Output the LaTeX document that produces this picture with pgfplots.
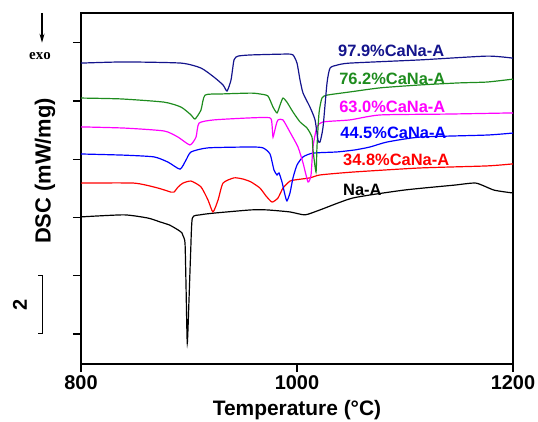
\documentclass[border=0pt]{standalone}
\usepackage{pgfplots}
\pgfplotsset{compat=1.18}
\usetikzlibrary{arrows.meta}
\usepackage{fontspec}
\setmainfont{Liberation Sans}
\newfontfamily\seriffont{Liberation Serif}
\definecolor{cnavy}{RGB}{20,20,140}
\definecolor{cgreen}{RGB}{30,140,30}
\definecolor{cmag}{RGB}{255,0,255}
\definecolor{cblue}{RGB}{0,0,255}
\definecolor{cred}{RGB}{255,0,0}
\begin{document}
\begin{tikzpicture}
\begin{axis}[
  scale only axis, width=432bp, height=351bp,
  xmin=800, xmax=1200, ymin=-1.03, ymax=11.02,
  xtick={800,1000,1200}, ytick={0,2,...,10}, yticklabels={},
  axis line style={line width=1.2pt},
  tick style={line width=1.2pt, black},
  tick align=outside, major tick length=8bp,
  xtick pos=bottom, ytick pos=left,
  /pgf/number format/assume math mode=true,
  /pgf/number format/1000 sep={},
  ticklabel style={font=\fontsize{20}{24}\selectfont\bfseries},
  clip=false,
  every axis plot/.append style={line width=1.2pt, no marks, smooth, tension=0.35},
]
\coordinate (SW) at (rel axis cs:0,0);
\coordinate (NE) at (rel axis cs:1,1);
% Na-A
\addplot[black] coordinates {
(800,4.02) (839.8,4.09) (862,3.98) (873,3.85) (882,3.74) (890,3.57) (893.5,3.47)
(894.4,3.38) (896.3,3.13) (897.2,1.75) (898.4,-0.31) (900,1.17) (901.6,2.88) (903.1,3.98)
(910.2,4.09) (923.1,4.15) (957.4,4.26) (972.2,4.26) (993.5,4.19) (1007.4,4.09)
(1021.3,4.26) (1051.9,4.67) (1099,4.94) (1145.4,5.11) (1165.7,5.18) (1182.4,4.94) (1200,4.84)
};
% 34.8
\addplot[cred] coordinates {
(800,5.18) (849.1,5.18) (871.3,5.01) (883.3,4.87) (886.1,4.87) (890,5.05) (894.4,5.18)
(901.9,5.25) (911.1,5.05) (917.6,4.60) (922.2,4.19) (926.9,4.60) (931.5,5.18)
(941.7,5.36) (950,5.32) (957.4,5.22) (965.7,5.01) (971.3,4.74) (976.9,4.53) (982.4,4.67)
(987,5.01) (993.5,5.25) (998.1,5.29) (1012,5.36) (1021.3,5.46) (1051.9,5.56)
(1113.9,5.70) (1176,5.77) (1200,5.84)
};
% 44.5
\addplot[cblue] coordinates {
(800,6.18) (839.8,6.14) (867.6,6.08) (880.6,5.90) (891.7,5.66) (897.2,5.97) (901.9,6.25)
(917.6,6.39) (957.4,6.42) (968.5,6.39) (975,6.18) (978.7,5.63) (981.5,5.46) (983.3,5.53)
(986.1,5.22) (988.9,4.77) (990.7,4.57) (993.5,4.84) (996.3,5.36) (1000,5.80) (1005.6,6.08)
(1014.8,6.21) (1037,6.25) (1053.7,6.32) (1067.6,6.42) (1083.3,6.59) (1113.9,6.76)
(1176,6.83) (1200,6.90)
};
% 63.0
\addplot[cmag] coordinates {
(800,7.11) (839.8,7.07) (876.9,6.97) (889.8,6.76) (900.9,6.49) (906.5,6.76) (909.3,7.24)
(923.1,7.35) (957.4,7.42) (975,7.42) (976.9,7.17) (977.8,6.76) (980.6,7.17) (982.4,7.35)
(987,7.35) (993.5,6.93) (1000.9,6.42) (1005.6,5.87) (1010.2,5.22) (1013,5.46) (1014.8,6.42)
(1018.5,7.11) (1024.1,7.28) (1049,7.35) (1077,7.52) (1139,7.55) (1200,7.59)
};
% 76.2
\addplot[cgreen] coordinates {
(800,8.10) (837,8.07) (876.9,7.96) (892.6,7.79) (901.9,7.52) (905.6,7.38) (911.1,7.69)
(914.8,8.20) (929.6,8.24) (957.4,8.27) (965.7,8.24) (973.1,8.17) (977.8,7.79) (981.5,7.59)
(984.3,7.86) (987,8.10) (990.7,7.96) (996.3,7.62) (1002.8,7.28) (1009.3,7.07) (1013.9,6.76)
(1014.8,6.32) (1017.6,5.56) (1018.5,6.42) (1020.4,7.59) (1023.1,8.10) (1027.8,8.20)
(1049,8.31) (1077,8.45) (1113.9,8.55) (1150,8.62) (1176,8.65) (1200,8.75)
};
% 97.9
\addplot[cnavy] coordinates {
(800,9.30) (839.8,9.34) (892.6,9.30) (911.1,9.13) (923.1,8.82) (931.5,8.55) (935.2,8.34)
(938.9,8.72) (941.7,9.41) (945.4,9.54) (957.4,9.58) (990,9.61) (996.3,9.58) (1000,9.30)
(1002.8,8.72) (1005.6,8.27) (1012,7.79) (1016.7,7.35) (1019.4,6.66) (1021.3,6.59)
(1024.1,7.10) (1027.8,8.62) (1030.6,9.13) (1037,9.23) (1049,9.30) (1114,9.41)
(1176,9.54) (1200,9.47)
};
% labels
\begin{scope}[every node/.style={anchor=west, inner sep=0pt, font=\fontsize{16.5}{18}\selectfont\bfseries}]
\node[text=cnavy]  at (axis cs:1038,9.72) {97.9\%CaNa-A};
\node[text=cgreen] at (axis cs:1039,8.75) {76.2\%CaNa-A};
\node[text=cmag]   at (axis cs:1039,7.79) {63.0\%CaNa-A};
\node[text=cblue]  at (axis cs:1040,6.90) {44.5\%CaNa-A};
\node[text=cred]   at (axis cs:1042.6,5.97) {34.8\%CaNa-A};
\node[text=black]  at (axis cs:1042.6,4.94) {Na-A};
\end{scope}
% axis titles
\node[font=\fontsize{21}{24}\selectfont\bfseries] at (axis cs:1000,-2.61) {Temperature (\textdegree C)};
\node[font=\fontsize{22}{24}\selectfont\bfseries, rotate=90] at (axis cs:766.7,5.6) {DSC (mW/mg)};
% exo arrow
\draw[-{Stealth[length=9bp,width=5bp]}, line width=1.1pt] (axis cs:763.9,11.02) -- (axis cs:763.9,10.0);
\node[font=\seriffont\fontsize{15}{16}\selectfont\bfseries] at (axis cs:762,9.55) {exo};
% scale bar
\draw[line width=1pt] (axis cs:760.5,0) -- (axis cs:764.5,0) -- (axis cs:764.5,2) -- (axis cs:760.5,2);
\node[font=\fontsize{20}{24}\selectfont\bfseries, rotate=90] at (axis cs:743.5,1.0) {2};
\end{axis}
\pgfresetboundingbox
\path[use as bounding box] ([xshift=-81bp,yshift=-58bp]SW) rectangle ([xshift=25bp,yshift=13bp]NE);
\end{tikzpicture}
\end{document}
